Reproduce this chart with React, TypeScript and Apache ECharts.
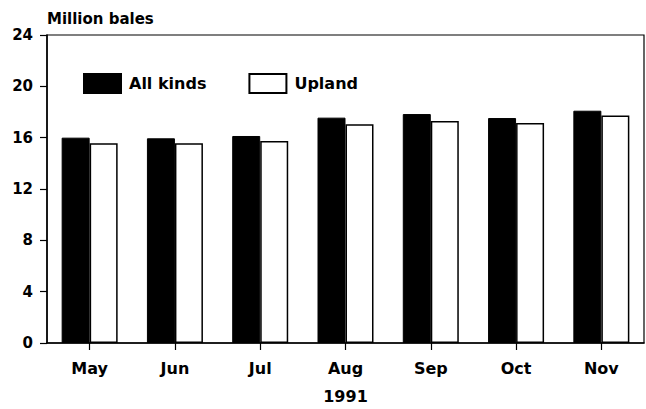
import React, { useEffect, useRef } from "react";
import * as echarts from "echarts";

const months = ["May", "Jun", "Jul", "Aug", "Sep", "Oct", "Nov"];
const allKinds = [16.0, 15.95, 16.13, 17.56, 17.84, 17.53, 18.1];
const upland = [15.57, 15.57, 15.75, 17.05, 17.3, 17.15, 17.72];
const yTicks = [0, 4, 8, 12, 16, 20, 24];

const FONT = "DejaVu Sans";

export default function App() {
  const ref = useRef<HTMLDivElement>(null);
  useEffect(() => {
    if (!ref.current) return;
    const chart = echarts.init(ref.current, null, { renderer: "svg" });
    chart.setOption({
      animation: false,
      backgroundColor: "#ffffff",
      textStyle: { fontFamily: FONT },
      grid: {
        left: 47,
        right: 2,
        top: 35,
        bottom: 61,
        show: true,
        borderColor: "#000",
        borderWidth: 1.2,
        backgroundColor: "transparent",
      },
      legend: {
        left: 83,
        top: 73,
        padding: 0,
        itemWidth: 37,
        itemHeight: 19,
        itemGap: 42,
        icon: "rect",
        data: ["All kinds", "Upland"],
        textStyle: {
          fontFamily: FONT,
          fontWeight: "bold",
          fontSize: 16,
          color: "#000",
          padding: [0, 0, 0, 3],
        },
      },
      xAxis: {
        type: "category",
        data: months,
        name: "1991",
        nameLocation: "middle",
        nameGap: 45,
        nameTextStyle: {
          fontFamily: FONT,
          fontWeight: "bold",
          fontSize: 16,
          color: "#000",
        },
        axisLine: { show: true, lineStyle: { color: "#000", width: 1.5 } },
        axisTick: {
          show: true,
          alignWithLabel: true,
          length: 7,
          lineStyle: { color: "#000", width: 1.2 },
        },
        axisLabel: {
          margin: 17,
          fontFamily: FONT,
          fontWeight: "bold",
          fontSize: 16,
          color: "#000",
        },
        splitLine: { show: false },
      },
      yAxis: {
        type: "value",
        min: yTicks[0],
        max: yTicks[yTicks.length - 1],
        interval: 4,
        name: "Million bales",
        nameLocation: "end",
        nameGap: 9,
        nameTextStyle: {
          fontFamily: FONT,
          fontWeight: "bold",
          fontSize: 15,
          color: "#000",
          align: "left",
        },
        axisLine: { show: true, lineStyle: { color: "#000", width: 1.5 } },
        axisTick: { show: true, length: 7, lineStyle: { color: "#000", width: 1.2 } },
        axisLabel: {
          margin: 14,
          fontFamily: FONT,
          fontWeight: "bold",
          fontSize: 15,
          color: "#000",
        },
        splitLine: { show: false },
      },
      series: [
        {
          name: "All kinds",
          type: "bar",
          data: allKinds,
          barWidth: 28,
          barGap: "0%",
          itemStyle: { color: "#000", borderColor: "#000", borderWidth: 1 },
        },
        {
          name: "Upland",
          type: "bar",
          data: upland,
          barWidth: 28,
          barGap: "0%",
          itemStyle: { color: "#fff", borderColor: "#000", borderWidth: 1.5 },
        },
      ],
    });
    return () => chart.dispose();
  }, []);
  return <div ref={ref} style={{ width: 646, height: 409, position: "absolute", left: 0, top: 0 }} />;
}
